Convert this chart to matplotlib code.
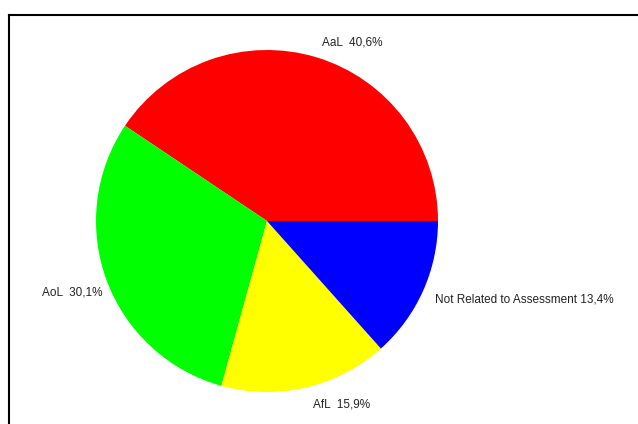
import numpy as np
import matplotlib
matplotlib.use("Agg")
import matplotlib.pyplot as plt
from matplotlib.lines import Line2D

labels = ["AaL", "AoL", "AfL", "Not Related to Assessment"]
values = [40.6, 30.1, 15.9, 13.4]
value_texts = ["40,6%", "30,1%", "15,9%", "13,4%"]
colors = ["#FF0000", "#00FF00", "#FFFF00", "#0000FF"]

W, H = 638, 424
fig = plt.figure(figsize=(W / 100, H / 100), dpi=100)
fig.patch.set_facecolor("white")

cx, cy, r = 267, 221, 171
ax = fig.add_axes([(cx - r) / W, (H - cy - r) / H, 2 * r / W, 2 * r / H])
ax.axis("off")

wedges, _ = ax.pie(values, colors=colors, startangle=0, counterclock=True,
                   radius=1, wedgeprops=dict(linewidth=0))
ax.set_xlim(-1, 1)
ax.set_ylim(-1, 1)
ax.set_aspect("equal")

# small pixel nudges of each label from its radial anchor
nudges = [(0, -1), (12, -6), (3, 0), (-4, -2)]
seps = ["  ", "  ", "  ", " "]

total = sum(values)
start = 0.0
for lab, v, vt, nd, sp in zip(labels, values, value_texts, nudges, seps):
    mid = np.deg2rad(start + v / total * 360 / 2)
    start += v / total * 360
    d = 1.1
    x, y = d * np.cos(mid), d * np.sin(mid)
    ha = "left" if np.cos(mid) >= 0 else "right"
    ax.annotate(f"{lab}{sp}{vt}", xy=(x, y), xytext=nd, textcoords="offset pixels",
                ha=ha, va="center", fontsize=8.5, family="Liberation Sans",
                color="#222222", annotation_clip=False)

# frame lines
yt = 1 - 14.5 / H
xl = 8.5 / W
fig.add_artist(Line2D([xl, 1], [yt, yt], transform=fig.transFigure, color="black", linewidth=1.5))
fig.add_artist(Line2D([xl, xl], [0, yt], transform=fig.transFigure, color="black", linewidth=1.5))

fig.savefig("out.png", dpi=100)
